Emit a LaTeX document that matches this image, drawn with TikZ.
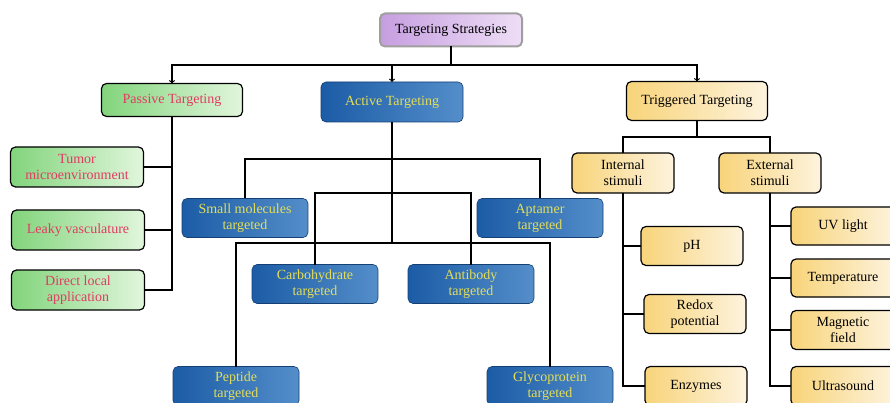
\documentclass[tikz,border=0pt]{standalone}
\usepackage{fontspec}
\setmainfont{Liberation Serif}
\usetikzlibrary{positioning, calc}
\definecolor{darkred}{RGB}{226, 58, 98}
\definecolor{paleyellow}{RGB}{228, 222, 88}
\definecolor{boxblue}{RGB}{28, 92, 166}
\definecolor{lightblue}{RGB}{84, 142, 202}
\definecolor{leftgreen}{RGB}{130, 212, 124}
\definecolor{rightgreen}{RGB}{225, 246, 220}
\definecolor{leftyellow}{RGB}{248, 212, 122}
\definecolor{rightyellow}{RGB}{253, 243, 222}
\definecolor{leftviolet}{RGB}{198, 158, 224}
\definecolor{rightviolet}{RGB}{238, 222, 246}

\begin{document}
\begin{tikzpicture}[x=1pt, y=-1pt]
    % Stili dei riquadri
    \tikzset{
        base_box/.style={
            rounded corners=5pt,
            align=center, % testo centrato
            font=\fontsize{14}{16}\selectfont,
            inner sep=0pt,
            outer sep=0pt
        },
        root_box/.style={
            base_box,
            draw=gray!75,
            line width=2pt,
            left color=leftviolet,
            right color=rightviolet,
            text=black
        },
        passive_box/.style={
            base_box,
            draw=black,
            line width=1.2pt,
            left color=leftgreen,
            right color=rightgreen,
            text=darkred,
            minimum width=133, % larghezza
            minimum height=40 % altezza
        },
        active_box/.style={
            base_box,
            draw=boxblue!70!black,
            line width=0.6pt,
            left color=boxblue,
            right color=lightblue,
            text=paleyellow,
            minimum width=126,
            minimum height=39
        },
        trigger_box/.style={
            base_box,
            draw=black,
            line width=1.2pt,
            left color=leftyellow,
            right color=rightyellow,
            text=black,
            minimum width=102,
            minimum height=39
        },
        link/.style={draw=black, line width=1.2pt},
        arrow_link/.style={link, ->}
    }

    \useasboundingbox (0,0) rectangle (890,403);
    \clip (0,0) rectangle (890,403);

    % Radice
    \node[root_box, minimum width=142, minimum height=33] (strategies) at (451,30) {Targeting Strategies};

    % Tre rami principali
    \node[passive_box, minimum width=141, minimum height=33] (passive) at (172,100) {Passive Targeting};
    \node[active_box, minimum width=142, minimum height=40] (active) at (392,102) {Active Targeting};
    \node[trigger_box, minimum width=141, minimum height=39] (triggered) at (697,101) {Triggered Targeting};

    % Passivo
    \node[passive_box] (tumor) at (77,167) {Tumor\\microenvironment};
    \node[passive_box] (leaky) at (78,230) {Leaky vasculature};
    \node[passive_box] (direct) at (78,290) {Direct local\\application};

    % Attivo
    \node[active_box] (small_mol) at (245,218) {Small molecules\\targeted};
    \node[active_box] (aptamer) at (540,218) {Aptamer\\targeted};
    \node[active_box] (carbo) at (315,284) {Carbohydrate\\targeted};
    \node[active_box] (antibody) at (471,284) {Antibody\\targeted};
    \node[active_box] (peptide) at (236,386) {Peptide\\targeted};
    \node[active_box] (glyco) at (550,386) {Glycoprotein\\targeted};

    % Innescato
    \node[trigger_box, minimum height=40] (internal) at (623,173) {Internal\\stimuli};
    \node[trigger_box, minimum height=40] (external) at (770,173) {External\\stimuli};

    \node[trigger_box] (ph) at (692,246) {pH};
    \node[trigger_box] (redox) at (695,314) {Redox\\potential};
    \node[trigger_box] (enzymes) at (696,386) {Enzymes};

    \node[trigger_box, minimum width=104, minimum height=38] (uv) at (843,226) {UV light};
    \node[trigger_box, minimum width=104, minimum height=38] (temperature) at (843,278) {Temperature};
    \node[trigger_box, minimum width=104] (magnetic) at (843,330) {Magnetic\\field};
    \node[trigger_box, minimum width=104] (ultrasound) at (843,386) {Ultrasound};

    % Punti di diramazione
    \coordinate (root_bar) at (451,65);
    \coordinate (act_bar1) at (392,159);
    \coordinate (act_bar2) at (392,193);
    \coordinate (act_bar3) at (392,243);
    \coordinate (trig_bar) at (697,137);

    % Collego la radice ai tre rami
    \draw[link] (strategies.south) -- (root_bar);
    \draw[arrow_link] (root_bar) -| (passive.north);
    \draw[arrow_link] (root_bar) -| (active.north);
    \draw[arrow_link] (root_bar) -| (triggered.north);

    % Collego il passivo
    \draw[link] (passive.south) |- (tumor.east);
    \draw[link] (passive.south) |- (leaky.east);
    \draw[link] (passive.south) |- (direct.east);

    % Collego l'attivo
    \draw[link] (active.south) -- (act_bar3);
    \draw[link] (small_mol.north) |- (act_bar1) -| (aptamer.north);
    \draw[link] (carbo.north) |- (act_bar2) -| (antibody.north);
    \draw[link] (peptide.north) |- (act_bar3) -| (glyco.north);

    % Collego l'innescato
    \draw[link] (triggered.south) -- (trig_bar);
    \draw[link] (internal.north) |- (trig_bar) -| (external.north);

    \draw[link] (internal.south) |- (ph.west);
    \draw[link] (internal.south) |- (redox.west);
    \draw[link] (internal.south) |- (enzymes.west);

    \draw[link] (external.south) |- (uv.west);
    \draw[link] (external.south) |- (temperature.west);
    \draw[link] (external.south) |- (magnetic.west);
    \draw[link] (external.south) |- (ultrasound.west);

\end{tikzpicture}
\end{document}
